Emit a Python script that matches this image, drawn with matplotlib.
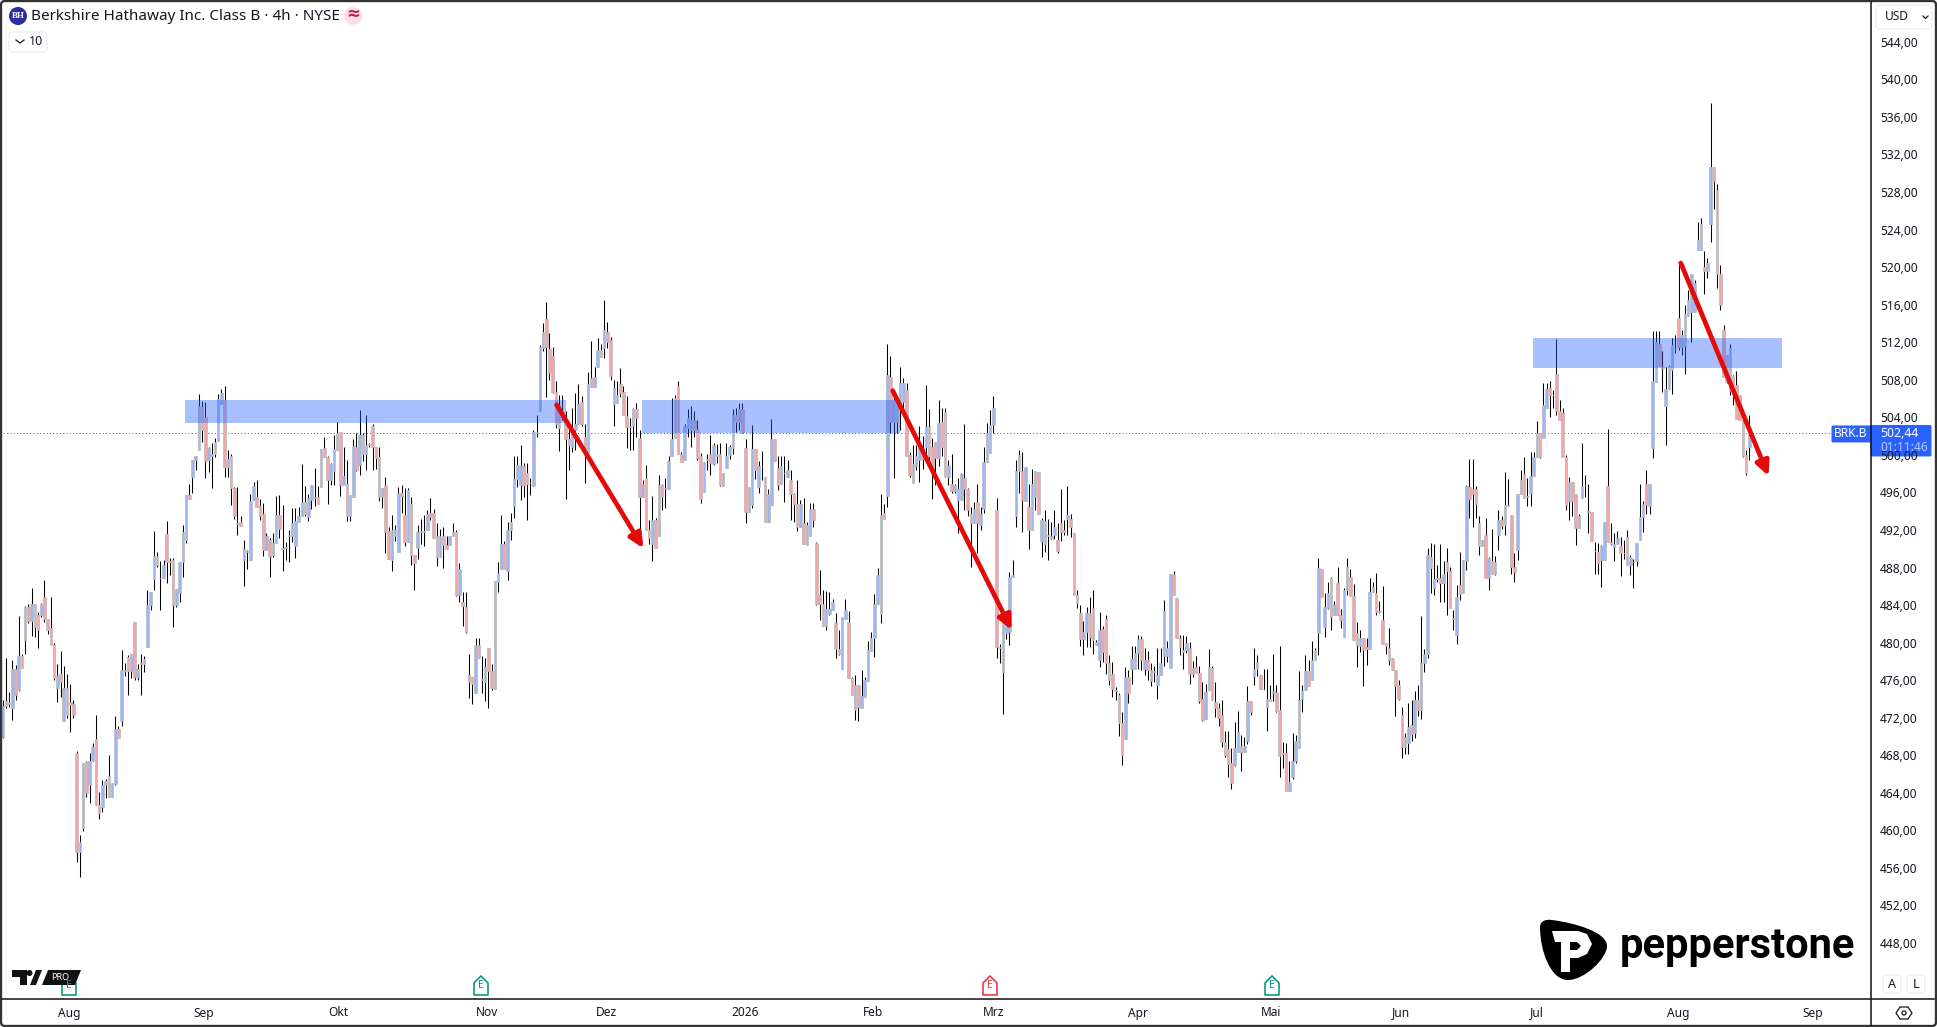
import numpy as np
import matplotlib
matplotlib.use("Agg")
import matplotlib.pyplot as plt
from matplotlib.patches import Rectangle, FancyBboxPatch, FancyArrowPatch, Circle, Polygon, PathPatch
from matplotlib.path import Path

# 4h bars
opens = [
    470.1,473.9,473.6,473.2,477.4,475.1,478.7,480.4,484.0,482.5,
    484.3,483.1,483.1,485.0,482.7,481.7,479.9,475.3,476.8,471.8,
    475.3,473.8,473.6,468.4,457.9,460.4,467.4,465.0,467.6,469.9,
    462.9,462.7,465.0,466.0,463.7,465.1,471.0,471.8,477.2,478.6,
    477.1,482.4,476.5,477.9,477.9,479.7,484.2,486.9,489.4,487.0,
    487.0,491.7,488.9,489.0,484.2,485.4,488.7,491.1,495.9,497.8,
    499.6,500.7,505.3,504.2,499.6,500.3,500.2,501.6,505.6,506.0,
    498.9,500.0,496.6,492.9,493.0,489.0,489.9,489.0,495.3,495.7,
    494.7,493.9,490.0,491.1,489.5,490.8,493.8,490.2,490.2,491.5,
    491.5,490.4,493.0,493.6,495.1,493.5,495.4,495.7,495.7,496.7,
    500.9,499.9,497.5,498.4,500.7,502.6,497.0,497.1,493.7,495.7,
    501.0,499.1,502.3,500.2,501.2,503.2,501.0,499.9,495.7,497.0,
    492.0,489.0,492.2,489.8,496.1,493.8,490.9,494.9,489.5,490.2,
    492.1,491.9,492.2,494.0,494.0,491.5,489.3,491.5,490.6,490.6,
    491.5,491.9,485.2,484.5,484.0,476.0,476.5,474.8,479.9,476.3,
    476.0,479.6,477.1,475.2,486.6,488.0,490.7,487.8,492.2,494.7,
    497.6,496.9,499.0,498.2,497.2,496.8,502.5,504.8,511.5,514.6,
    511.4,510.7,506.9,503.0,504.3,503.7,501.8,501.0,502.8,503.5,
    505.8,502.1,500.2,508.4,507.4,509.5,511.3,511.5,513.3,512.4,
    505.6,505.7,507.7,506.9,504.3,503.2,503.2,505.0,502.0,495.7,
    497.7,492.2,490.7,493.2,491.5,496.9,496.6,496.5,500.0,502.0,
    507.5,500.2,499.6,503.0,502.8,503.9,502.9,500.0,496.2,499.7,
    500.3,499.2,500.0,500.3,496.8,498.8,500.1,500.9,504.4,503.7,
    505.0,500.9,494.1,494.8,500.8,496.7,498.9,497.8,493.0,494.8,
    501.9,498.8,497.1,498.2,497.8,497.5,496.0,494.9,492.5,492.9,
    490.6,491.5,494.4,490.8,485.2,484.3,481.9,483.2,483.6,482.2,
    479.5,477.4,482.7,482.4,476.4,473.0,475.7,473.2,474.4,476.1,
    479.3,480.7,484.3,483.2,494.0,495.8,508.5,503.7,503.7,505.0,
    505.8,507.1,500.1,497.2,499.0,499.6,500.9,501.0,503.1,501.0,
    501.5,499.8,503.7,504.7,497.8,497.1,496.3,495.4,495.3,497.7,
    496.5,493.9,492.9,495.1,492.7,494.4,499.4,500.4,503.3,494.3,
    479.7,477.0,481.2,481.3,487.2,493.6,498.4,498.4,495.2,494.6,
    492.2,495.7,498.3,491.0,490.7,491.5,491.3,491.6,491.1,492.9,
    491.9,493.3,493.3,491.8,485.2,483.3,480.5,481.3,483.3,483.9,
    480.2,478.3,481.6,482.7,478.0,476.8,475.1,474.6,471.6,469.9,
    476.5,477.4,477.4,479.1,480.5,477.3,478.3,476.1,477.1,475.6,
    476.7,478.7,478.7,477.5,487.5,484.9,480.7,479.2,479.4,479.6,
    476.8,477.6,476.9,474.2,472.0,475.1,477.5,473.8,473.2,472.5,
    469.6,468.8,467.3,467.1,468.5,469.2,468.5,469.7,473.9,476.6,
    477.3,476.7,475.2,473.3,474.2,474.8,474.9,473.0,468.3,468.4,
    464.4,465.8,467.6,468.9,474.2,475.1,477.1,476.2,478.3,481.2,
    488.0,481.8,483.8,487.0,483.1,486.5,483.1,480.8,485.8,487.2,
    485.1,481.2,479.8,480.7,479.7,479.5,485.6,485.4,483.5,482.6,
    480.1,479.6,478.5,477.2,475.6,472.4,469.0,469.5,471.4,470.5,
    474.0,473.0,478.0,478.9,489.3,486.0,486.9,487.0,486.5,488.8,
    487.8,482.7,481.0,486.3,485.4,488.9,496.7,496.5,496.5,492.9,
    490.4,491.6,487.0,488.9,487.5,491.6,493.2,492.7,494.8,493.8,
    488.2,490.0,496.0,498.1,495.7,496.1,497.9,499.9,502.5,502.0,
    505.2,507.3,506.5,508.8,504.8,504.6,499.9,495.2,497.3,496.0,
    492.4,495.6,496.9,494.1,494.1,489.9,489.8,489.0,489.0,496.8,
    490.9,490.3,490.7,490.4,489.7,491.4,488.4,488.8,488.9,491.1,
    493.5,497.1,494.7,500.9,507.9,512.0,509.5,505.4,507.2,509.2,
    511.4,514.7,511.7,511.8,515.0,515.4,515.4,522.0,522.0,520.2,
    519.7,524.8,530.8,528.4,519.4,513.5,510.8,507.0,508.6,507.6,
    506.5,503.9,500.1,501.0,
]
closes = [
    473.4,473.4,473.8,477.4,474.6,478.7,477.5,484.0,482.5,484.3,
    481.8,481.5,484.3,482.7,481.5,479.9,476.4,476.7,476.0,475.3,
    472.4,473.5,472.4,457.9,458.9,467.3,464.1,467.6,469.0,462.9,
    462.0,465.0,465.4,463.7,465.2,471.0,470.0,477.2,477.1,477.1,
    479.0,476.5,477.4,478.0,478.4,484.2,485.6,489.4,488.4,487.0,
    488.4,488.8,488.8,484.2,485.9,488.7,491.9,495.9,495.5,499.6,
    500.0,505.4,502.8,499.5,500.9,500.0,501.5,506.1,506.7,498.9,
    499.7,496.6,493.6,492.8,492.6,490.1,489.8,495.2,496.8,494.6,
    493.6,490.0,491.5,489.4,490.8,493.8,492.3,490.1,490.3,491.6,
    492.9,493.1,493.6,495.1,493.9,495.6,497.0,495.6,494.9,500.8,
    499.9,497.5,499.2,500.8,502.5,496.9,497.9,493.7,495.9,501.1,
    498.5,502.3,500.2,501.2,501.3,501.0,499.8,495.7,496.6,491.9,
    489.1,492.2,491.5,496.1,495.8,490.9,496.4,489.5,488.6,491.9,
    491.9,492.1,493.9,493.5,491.3,489.3,491.5,490.6,490.1,491.5,
    491.9,485.2,488.0,484.1,481.3,476.7,475.8,479.9,478.5,476.2,
    477.6,477.1,475.3,486.7,487.6,490.7,488.0,492.2,493.0,497.6,
    499.1,499.0,496.9,497.1,497.2,502.6,502.6,511.6,513.2,511.7,
    508.9,506.9,503.5,505.5,504.2,501.8,501.2,502.6,503.4,505.6,
    503.4,500.2,507.7,507.4,508.5,511.3,510.6,513.5,512.2,508.6,
    507.3,506.5,506.7,504.4,503.1,503.1,505.0,504.1,495.7,497.1,
    492.2,491.3,493.2,490.2,496.9,495.7,496.5,499.5,501.9,506.2,
    500.2,499.4,503.2,504.1,503.9,502.8,499.8,495.5,499.4,499.6,
    499.3,501.2,500.2,497.0,498.2,500.0,501.0,504.4,503.7,505.0,
    502.6,494.1,496.7,500.8,498.5,499.0,498.9,493.0,496.0,501.9,
    499.5,497.0,499.0,498.2,498.6,496.0,494.9,492.5,494.9,490.7,
    492.7,494.4,493.2,484.3,484.3,481.9,483.7,483.7,484.5,479.5,
    479.0,482.9,483.6,476.4,474.6,475.7,473.3,474.5,476.2,479.4,
    480.7,484.3,487.4,493.8,493.3,508.7,503.7,506.0,505.8,507.8,
    507.8,500.0,498.0,499.2,500.0,501.0,499.7,503.1,500.0,498.7,
    499.8,503.6,501.0,497.8,499.0,496.3,497.0,496.5,498.1,496.5,
    494.3,492.9,494.4,492.9,493.9,499.4,502.5,503.3,505.2,479.7,
    479.6,482.4,482.2,487.2,487.4,498.4,500.1,495.4,498.9,492.2,
    497.1,498.4,493.9,493.2,493.1,491.6,491.5,492.5,489.9,491.9,
    492.2,493.8,492.5,485.2,484.4,480.5,481.3,483.3,480.8,480.4,
    479.9,481.5,479.2,478.0,476.2,475.2,475.0,471.6,468.2,476.5,
    474.8,478.4,479.1,480.5,478.3,478.3,477.2,477.2,477.0,476.7,
    478.0,483.5,479.6,487.5,485.2,480.7,479.7,479.4,480.1,476.8,
    477.5,476.9,473.9,471.9,474.9,477.6,474.2,473.2,472.1,469.6,
    468.2,467.2,465.2,468.9,470.6,468.5,469.2,473.9,472.8,477.4,
    478.1,475.2,475.2,474.2,473.9,475.0,472.9,468.1,468.4,464.4,
    465.3,467.5,469.7,474.1,475.0,477.1,475.5,478.3,479.4,488.1,
    485.0,484.0,485.4,482.9,484.2,483.1,482.6,485.8,488.2,485.1,
    480.4,479.9,480.6,479.4,479.5,485.6,486.1,483.4,483.4,480.0,
    479.8,478.3,477.2,475.5,474.2,469.0,470.1,471.2,470.4,474.0,
    473.0,478.0,478.9,489.5,488.1,486.9,487.0,486.5,487.5,487.8,
    483.9,482.8,485.0,485.3,489.0,496.8,495.5,496.0,494.9,490.4,
    491.1,487.0,489.2,487.5,488.7,493.2,492.6,494.8,494.7,488.2,
    487.7,496.0,497.5,495.6,495.8,497.9,499.9,502.5,499.9,505.5,
    507.2,506.5,506.5,504.8,503.9,499.9,494.8,497.3,495.2,492.4,
    493.6,496.8,497.0,494.2,491.0,489.9,488.6,490.5,493.0,490.9,
    490.7,490.7,491.3,489.7,489.7,488.4,489.3,488.8,490.8,493.5,
    494.9,494.8,497.1,508.0,512.2,509.6,509.4,507.2,509.6,511.9,
    511.4,511.7,512.9,515.2,516.7,519.4,518.5,523.1,524.7,519.7,
    520.6,530.8,529.3,519.4,516.1,508.5,507.9,511.5,507.6,504.0,
    503.9,500.0,498.2,502.4,
]
highs = [
    474.0,478.5,474.9,478.3,477.8,483.0,478.9,484.1,484.3,486.0,
    484.3,483.4,484.4,486.8,482.7,485.0,480.1,477.9,479.3,477.7,
    476.8,475.8,474.1,468.6,459.7,467.3,467.5,468.4,469.5,472.5,
    464.3,465.5,465.6,468.2,465.2,472.3,471.3,479.4,478.0,478.8,
    479.0,482.4,477.9,478.9,478.7,485.8,485.6,492.0,489.8,488.9,
    489.0,493.1,489.2,489.2,485.9,488.7,492.7,495.9,497.1,499.6,
    500.0,506.6,505.9,505.8,501.0,501.4,502.0,506.6,507.2,507.5,
    500.7,500.3,496.7,496.7,493.6,491.1,490.0,496.0,497.3,497.5,
    495.5,495.0,491.8,491.3,491.8,495.8,495.9,494.8,490.9,492.2,
    494.5,494.5,494.6,499.2,496.8,496.0,497.0,498.8,496.8,500.8,
    502.1,500.0,499.3,502.3,503.7,502.6,501.0,499.6,495.9,501.9,
    502.5,504.9,502.5,504.4,501.4,503.4,501.0,501.0,496.6,497.8,
    492.5,493.8,492.7,496.7,497.0,496.6,496.6,495.7,489.5,492.7,
    493.3,493.8,494.3,495.6,494.4,492.9,492.3,492.5,491.5,491.5,
    492.9,492.2,488.6,485.5,485.5,478.9,476.5,480.7,480.7,478.7,
    478.5,479.6,477.9,486.7,488.8,493.8,491.0,493.0,494.0,500.0,
    500.0,501.2,499.3,499.3,497.7,502.8,504.4,511.9,514.2,516.4,
    513.1,511.7,508.0,506.5,506.5,504.8,503.0,505.1,506.7,507.7,
    506.4,503.5,509.0,512.3,509.5,512.6,512.0,516.7,514.3,512.7,
    508.1,508.0,509.4,507.5,506.4,504.1,505.1,505.7,502.8,497.5,
    499.1,493.2,495.8,493.4,498.0,497.1,497.7,500.0,506.2,506.5,
    508.0,500.5,503.5,505.0,505.4,504.8,503.9,500.4,499.4,500.3,
    502.3,501.4,501.3,501.4,498.2,501.4,501.2,505.0,505.1,505.7,
    505.7,501.9,496.7,503.3,500.8,499.5,500.6,497.8,496.5,504.0,
    501.9,500.0,500.0,500.0,499.6,498.5,496.1,497.5,495.4,495.6,
    493.0,495.0,495.0,490.9,487.9,485.8,485.7,485.5,484.8,483.3,
    481.5,482.9,484.8,483.5,476.5,476.7,475.7,477.2,476.5,480.3,
    481.3,485.3,488.1,496.0,494.9,512.0,510.7,507.1,506.0,509.5,
    508.4,507.8,500.5,501.2,501.2,503.2,502.2,507.6,505.0,502.0,
    501.5,506.0,505.1,505.1,499.6,500.3,497.1,497.7,498.2,503.4,
    496.6,494.6,495.1,497.1,494.6,501.0,503.6,504.9,506.4,495.6,
    480.0,482.4,482.2,487.7,489.0,499.6,500.7,500.5,498.9,497.1,
    498.7,498.4,498.3,493.4,494.3,493.3,493.0,494.3,492.9,496.5,
    493.2,496.8,493.9,491.8,485.8,484.2,482.5,484.0,485.0,485.8,
    480.4,483.4,481.9,483.1,478.8,478.1,475.4,474.8,472.8,477.6,
    477.2,479.8,479.8,481.0,480.9,479.6,479.3,478.0,477.7,479.6,
    479.6,484.7,480.3,487.5,487.8,484.9,481.0,481.0,480.9,480.2,
    478.2,478.7,477.7,476.0,475.8,479.5,477.7,476.0,473.7,474.1,
    470.8,470.8,468.9,471.7,472.9,470.3,470.1,475.5,473.9,479.6,
    478.8,476.7,477.4,477.4,475.7,478.9,475.7,479.8,469.6,469.5,
    467.5,470.5,470.3,477.1,475.6,478.8,478.3,480.3,479.6,489.2,
    488.0,485.4,486.6,487.1,484.6,488.2,483.7,486.0,489.2,488.0,
    486.4,482.4,481.5,480.7,480.7,487.0,486.6,487.6,484.6,486.2,
    480.1,481.7,478.5,477.2,476.2,473.3,470.5,473.7,474.0,475.0,
    475.7,483.0,479.5,490.2,490.8,490.7,488.4,490.7,488.9,490.2,
    488.2,483.6,486.3,489.8,489.0,497.0,499.7,499.7,496.8,493.6,
    491.1,493.4,489.3,492.3,489.4,494.3,493.6,498.3,497.6,493.8,
    489.7,496.0,498.5,499.9,497.7,500.5,500.5,503.8,502.5,507.8,
    507.8,508.0,507.1,512.5,506.0,505.1,500.1,497.8,497.3,496.0,
    493.9,501.4,498.0,497.1,494.1,490.9,490.8,490.6,493.0,502.9,
    492.9,491.8,492.0,491.4,491.1,492.2,489.5,489.1,490.8,497.1,
    495.2,498.6,497.1,513.4,513.4,513.4,511.2,509.5,509.7,512.6,
    512.9,520.6,513.5,516.1,517.7,519.4,518.8,525.0,525.4,521.9,
    521.1,537.6,530.8,529.0,520.4,514.0,510.8,512.0,508.7,509.1,
    506.5,503.9,500.7,504.4,
]
lows = [
    470.0,473.2,473.3,471.9,474.0,475.0,477.5,479.0,482.3,480.9,
    480.8,479.6,482.9,482.4,481.1,479.9,476.2,473.8,474.4,471.8,
    472.1,470.6,472.1,456.8,455.2,460.1,463.7,463.1,467.6,462.9,
    461.4,462.1,463.6,463.7,463.7,465.0,470.0,471.3,476.6,474.6,
    476.4,476.2,476.2,474.6,477.0,479.7,483.6,485.8,488.2,483.6,
    487.0,486.5,487.4,481.8,484.0,484.5,487.2,490.8,495.5,496.1,
    498.5,500.7,501.5,497.7,498.3,496.6,499.9,501.6,505.6,497.8,
    497.8,494.8,493.3,491.6,492.6,486.2,488.0,489.0,495.3,494.6,
    493.2,489.4,490.0,487.2,489.3,490.8,491.3,487.8,489.0,488.8,
    490.9,489.2,493.0,493.6,493.6,493.1,494.4,494.7,494.9,496.7,
    499.9,494.9,497.0,497.0,500.7,495.8,496.9,493.1,493.1,495.7,
    498.4,498.0,499.5,498.6,501.0,498.6,498.7,495.2,494.5,489.7,
    489.1,487.8,491.0,489.8,494.0,490.4,490.9,488.4,485.8,489.1,
    490.7,490.4,492.2,493.2,491.3,488.3,489.3,488.1,490.1,490.6,
    491.5,485.1,484.5,481.9,481.2,474.3,473.6,474.8,478.5,474.8,
    473.9,473.2,475.1,475.2,485.5,488.0,488.0,486.8,491.1,493.4,
    496.7,495.4,495.7,493.2,495.9,496.8,502.1,504.8,511.2,506.3,
    508.1,506.7,503.0,500.6,503.9,495.5,498.6,500.5,500.7,503.5,
    503.2,497.2,500.2,507.4,507.4,509.5,510.6,510.5,511.5,508.1,
    503.2,505.7,506.3,504.4,500.9,500.7,500.7,502.1,491.5,495.7,
    492.2,490.7,488.9,490.2,491.5,494.3,494.5,496.5,500.0,502.0,
    500.2,499.4,499.6,502.1,501.0,502.1,499.6,495.0,496.2,498.6,
    498.0,499.1,499.3,496.8,496.8,498.8,499.7,500.3,502.6,502.8,
    502.5,492.9,494.1,494.5,497.6,496.1,497.5,493.0,493.0,494.8,
    499.5,496.4,497.1,495.1,497.8,493.2,493.0,492.0,492.5,490.7,
    490.6,491.5,492.5,484.2,482.6,481.9,481.5,483.1,483.6,478.5,
    478.8,477.4,482.7,476.4,474.6,471.9,471.8,473.2,474.4,476.1,
    479.3,478.6,484.3,482.2,493.3,494.6,502.5,497.7,502.5,502.8,
    505.0,500.0,497.8,497.2,498.5,497.3,498.7,499.8,499.4,495.5,
    497.0,499.0,500.0,497.8,497.0,496.1,496.1,491.8,495.3,494.3,
    493.6,488.2,492.9,489.7,492.2,494.0,499.4,500.4,502.5,478.5,
    478.0,472.6,480.5,479.9,487.1,492.5,496.1,491.9,495.2,490.1,
    492.2,494.3,493.9,489.3,489.8,489.0,491.2,491.2,489.7,491.0,
    491.6,491.6,491.4,485.2,483.9,479.8,478.8,479.7,479.7,479.0,
    479.9,477.6,478.1,476.8,475.6,474.4,474.0,470.2,467.1,469.9,
    473.7,475.8,477.4,477.4,477.2,476.7,476.2,475.5,476.0,474.2,
    476.7,477.7,478.1,477.5,485.2,480.7,478.8,477.3,479.1,475.8,
    476.5,476.9,473.7,471.8,472.0,475.1,474.0,472.2,471.3,469.0,
    468.0,465.8,464.6,467.0,468.5,466.5,468.5,469.4,472.4,475.6,
    476.6,475.2,475.1,470.8,473.9,473.9,472.8,465.8,466.8,464.4,
    464.4,465.6,467.3,468.9,472.8,475.1,475.5,476.2,478.3,478.8,
    485.0,480.8,483.7,481.5,483.1,483.1,481.7,480.8,485.2,485.1,
    480.4,477.6,479.2,475.5,477.8,479.5,485.6,483.1,483.3,480.0,
    478.9,477.8,477.2,472.3,474.1,467.9,468.3,468.3,469.7,470.0,
    472.3,472.0,477.0,478.5,485.4,485.2,486.6,484.5,484.5,483.1,
    483.9,481.5,480.0,484.7,485.4,487.9,493.4,492.5,493.4,489.5,
    490.4,487.0,485.8,487.5,487.4,490.0,492.3,491.6,494.7,487.5,
    486.6,489.0,496.0,495.6,494.7,494.7,497.9,499.9,499.8,502.0,
    505.2,504.2,505.1,504.4,503.9,499.9,494.3,493.2,493.6,490.6,
    492.4,495.6,495.7,491.8,491.0,487.5,487.5,486.1,489.0,490.9,
    490.6,488.9,490.7,487.3,489.1,488.4,487.4,486.0,488.3,491.1,
    491.9,493.9,493.9,499.8,507.9,509.6,506.9,501.2,507.2,506.6,
    511.0,511.3,510.8,508.8,514.9,512.2,515.4,522.0,522.0,517.3,
    519.0,522.8,526.4,517.9,515.6,508.5,507.8,506.5,505.5,504.0,
    503.9,499.9,498.0,499.6,
]

# time axis labels, bar index where each month starts
month_labels = ["Aug", "Sep", "Okt", "Nov", "Dez", "2026", "Feb", "Mrz", "Apr", "Mai", "Jun", "Jul", "Aug", "Sep"]
month_pos = [20.6, 62.6, 104.3, 150.6, 187.6, 230.8, 270.6, 308.2, 353, 394.3, 434.7, 477, 520.8, 562.8]
price_ticks = list(range(448, 545, 4))
bold_ticks = [520, 540]
last_price = 502.44

# drawings: bar index range and price range of the zones, start and end of the arrows
zone_x = [(56.7, 175.1), (198.8, 279.0), (475.8, 553.2)]
zone_y = [(503.6, 506.0), (502.5, 506.0), (509.45, 512.6)]
arrow_start = [(172.2, 505.5), (276.7, 507.0), (521.7, 520.6)]
arrow_end = [(199.2, 490.2), (313.7, 481.5), (549.0, 497.9)]

W, H = 1937, 1027
AXIS_X, AXIS_Y = 1871, 999
BAR_PX, BAR_X0 = 3.2166, 2.67
PRICE_PX, PRICE_Y0 = 9.388, 43.3

plt.rcParams["font.family"] = ["Noto Sans", "DejaVu Sans"]

fig = plt.figure(figsize=(W / 100, H / 100), dpi=100, facecolor="white")
ax = fig.add_axes([0, (H - AXIS_Y) / H, AXIS_X / W, AXIS_Y / H])
ax.set_xlim(-BAR_X0 / BAR_PX, (AXIS_X - BAR_X0) / BAR_PX)
ax.set_ylim(544 - (AXIS_Y - PRICE_Y0) / PRICE_PX, 544 + PRICE_Y0 / PRICE_PX)
ax.axis("off")

o = np.array(opens)
c = np.array(closes)
x = np.arange(len(o))
up = c >= o
ax.vlines(x, np.array(lows), np.array(highs), color="black", linewidth=0.75, zorder=2)
ax.bar(x, np.abs(c - o), bottom=np.minimum(o, c), width=0.8,
       color=np.where(up, "#9fb6f4", "#f4a5ac"), edgecolor="#b9b9b9", linewidth=0.5, zorder=3)

ax.axhline(last_price, color="#2962ff", linewidth=0.72, linestyle=(0, (1, 2.3)), zorder=1)

for (x0, x1), (y0, y1) in zip(zone_x, zone_y):
    ax.add_patch(Rectangle((x0, y0), x1 - x0, y1 - y0, facecolor="#2962ff", alpha=0.4, linewidth=0, zorder=4))
for start, end in zip(arrow_start, arrow_end):
    ax.add_patch(FancyArrowPatch(start, end, arrowstyle="-|>,head_length=0.42,head_width=0.2", mutation_scale=20,
                                 color="#e50a0a", linewidth=3.4, shrinkA=0, shrinkB=0, zorder=5))

# everything around the plot, in pixels of the screenshot
ui = fig.add_axes([0, 0, 1, 1], facecolor="none")
ui.set_xlim(0, W)
ui.set_ylim(H, 0)
ui.axis("off")


def label(px, py, text, **kw):
    kw.setdefault("ha", "center")
    kw.setdefault("va", "center")
    kw.setdefault("color", "#131722")
    kw.setdefault("fontsize", 8.6)
    return ui.text(px, py, text, **kw)


def button(px, py, w, h, edge="#e8eaf0"):
    ui.add_patch(FancyBboxPatch((px + 3, py + 3), w - 6, h - 6, boxstyle="round,pad=3", facecolor="white",
                                edgecolor=edge, linewidth=0.8))


def earnings(px, color):
    ui.add_patch(Polygon([(px - 7, 995), (px - 7, 983), (px, 976), (px + 7, 983), (px + 7, 995)],
                         closed=True, facecolor="white", edgecolor=color, linewidth=1.2, joinstyle="round"))
    label(px, 986, "E", color=color, fontsize=7.5)


# separators and outer frame
ui.plot([AXIS_X, AXIS_X], [2, 1025], color="#111111", linewidth=1.1)
ui.plot([2, 1934], [AXIS_Y, AXIS_Y], color="#111111", linewidth=1.1)
ui.add_patch(FancyBboxPatch((5, 5), 1927, 1017, boxstyle="round,pad=4", facecolor="none",
                            edgecolor="#333333", linewidth=1.7))

# legend row
ui.add_patch(Circle((18, 16), 9, facecolor="#2b2e9c", linewidth=0))
label(18, 16, "BH", color="white", fontsize=6.5, family="Liberation Serif", fontweight="bold")
label(31, 16, "Berkshire Hathaway Inc. Class B · 4h · NYSE", ha="left", fontsize=11)
ui.add_patch(Circle((353, 16), 9, facecolor="#fbdde9", linewidth=0))
label(353, 15, "≈", color="#c2185b", fontsize=12, fontweight="bold")
button(9, 32, 38, 20)
ui.plot([16, 20, 24], [40, 43, 40], color="#131722", linewidth=0.9)
label(29, 41.5, "10", ha="left", fontsize=9)

# price scale
for p in price_ticks:
    py = PRICE_Y0 + (544 - p) * PRICE_PX
    label(1880, py, f"{p},00", ha="left", fontweight="bold" if p in bold_ticks else "normal")
button(1876, 5, 56, 24)
label(1885, 17, "USD", ha="left", fontsize=8.6)
ui.plot([1923, 1925.5, 1928], [16, 18.5, 16], color="#131722", linewidth=0.9)

# last price tag
py = PRICE_Y0 + (544 - last_price) * PRICE_PX
ui.add_patch(FancyBboxPatch((1833, py - 6.5), 38, 14, boxstyle="round,pad=1.5", facecolor="#2962ff", linewidth=0))
ui.add_patch(FancyBboxPatch((1872, py - 7), 58, 28.5, boxstyle="round,pad=1.5", facecolor="#2962ff", linewidth=0))
label(1851, py + 0.5, "BRK.B", color="white", fontsize=8.6)
label(1880, py, "502,44", color="white", ha="left", fontsize=8.8, fontweight="medium")
label(1880, py + 14, "01:11:46", color="#b7c9ff", ha="left", fontsize=8.6)

# time scale
for lab, pos in zip(month_labels, month_pos):
    label(BAR_X0 + pos * BAR_PX, 1013, lab)

for px, col in [(69, "#089981"), (481, "#089981"), (990, "#f23645"), (1272, "#089981")]:
    earnings(px, col)

# TradingView badge
ui.add_patch(Polygon([(12, 970), (27, 970), (27, 985), (20, 985), (20, 977), (12, 977)], closed=True, facecolor="#111111", linewidth=0))
ui.add_patch(Circle((29.5, 973), 3, facecolor="#111111", linewidth=0))
ui.add_patch(Polygon([(36, 970), (42, 970), (36, 985), (30, 985)], closed=True, facecolor="#111111", linewidth=0))
ui.add_patch(Polygon([(48, 970), (81, 970), (75, 985), (42, 985)], closed=True, facecolor="#111111", linewidth=0))
label(60.5, 977.5, "PRO", color="white", fontsize=6.5, fontweight="bold")

# A / L buttons and settings icon
button(1883, 975, 18, 18)
button(1907, 975, 18, 18)
label(1892, 984, "A", fontsize=9)
label(1916, 984, "L", fontsize=9)
ui.add_patch(Polygon([(1896, 1013), (1900, 1007), (1908, 1007), (1912, 1013), (1908, 1019), (1900, 1019)], closed=True,
                     facecolor="none", edgecolor="#131722", linewidth=0.9))
ui.add_patch(Circle((1904, 1013), 2, facecolor="none", edgecolor="#131722", linewidth=0.9))

# Pepperstone logo
M, C, Z = Path.MOVETO, Path.CURVE4, Path.CLOSEPOLY
blob = Path([(1540, 927), (1540, 921), (1546, 919), (1552, 920), (1575, 923), (1607, 932), (1607, 946),
             (1607, 958), (1585, 980), (1568, 980), (1550, 980), (1540, 950), (1540, 927), (1540, 927)],
            [M, C, C, C, C, C, C, C, C, C, C, C, C, Z])
ui.add_patch(PathPatch(blob, facecolor="black", linewidth=0))
ui.add_patch(Polygon([(1552, 931), (1578, 931), (1587, 934), (1592, 944), (1587, 954), (1578, 958), (1570, 958),
                      (1570, 972), (1561, 972), (1561, 942), (1555, 942)], closed=True, facecolor="white", linewidth=0))
ui.add_patch(Polygon([(1570, 942), (1577, 942), (1581, 946), (1577, 950), (1570, 950)], closed=True, facecolor="black", linewidth=0))
label(1620, 958, "pepperstone", ha="left", va="baseline", color="black", fontsize=30, family="Roboto", fontweight="bold")

fig.savefig("out.png", dpi=100)
